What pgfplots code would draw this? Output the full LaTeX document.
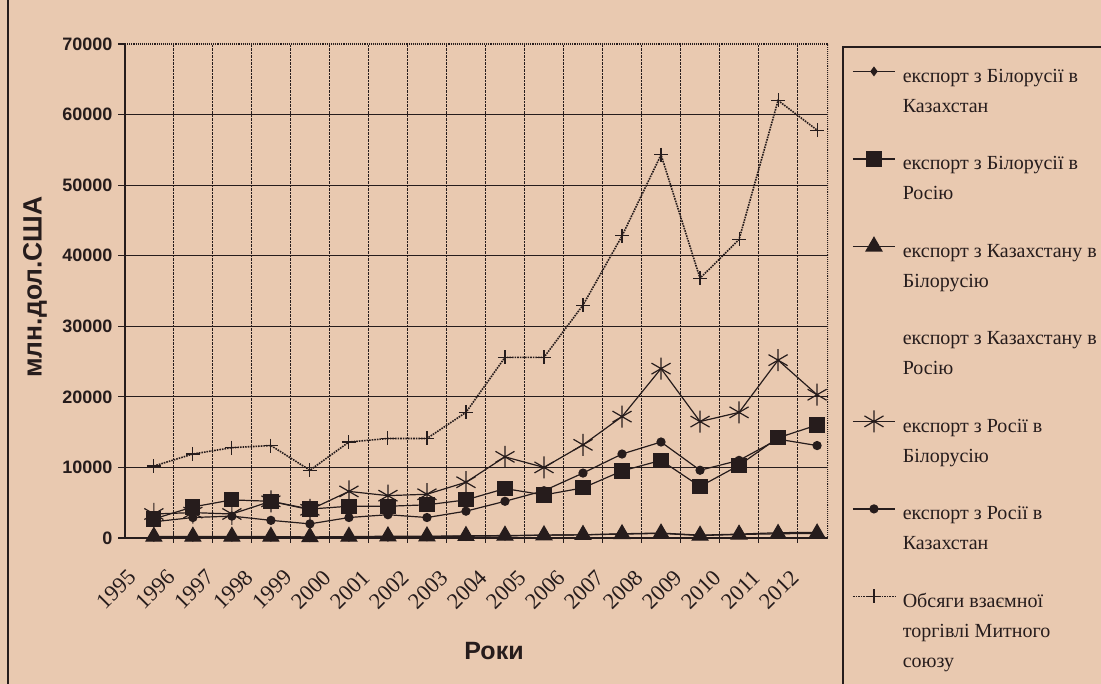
\documentclass[border=0pt]{standalone}
\usepackage{fontspec}
\setmainfont{Liberation Serif}
\setsansfont{Liberation Sans}
\usepackage{pgfplots}
\pgfplotsset{compat=1.18}
\definecolor{paper}{RGB}{233,201,176}
\definecolor{ink}{RGB}{38,28,28}
\newcommand{\legtxt}[1]{\parbox[t]{215pt}{\raggedright #1}}

\begin{document}
\begin{tikzpicture}
\path[use as bounding box, fill=paper] (0,0) rectangle (1101pt,684pt);
\draw[ink, line width=1.5pt] (8pt,0) -- (8pt,684pt);
\begin{axis}[
  at={(125pt,146pt)}, anchor=south west,
  scale only axis, width=703pt, height=494pt,
  xmin=-0.74, xmax=17.28, ymin=0, ymax=70000,
  axis x line*=bottom, axis y line*=left,
  axis line style={ink, line width=1.3pt, -},
  /pgf/number format/assume math mode=true,
  /pgf/number format/1000 sep={},
  scaled y ticks=false,
  xtick={0,...,17},
  xticklabels={1995,1996,1997,1998,1999,2000,2001,2002,2003,2004,2005,2006,2007,2008,2009,2010,2011,2012},
  major x tick style={draw=none},
  minor xtick={0.5,1.5,...,16.5},
  xminorgrids,
  minor grid style={ink, densely dotted, line width=1.1pt},
  minor x tick style={ink, line width=1.1pt},
  minor tick length=10pt,
  xtick align=center,
  xticklabel style={font=\fontsize{22.5}{22.5}\selectfont, text=ink, xshift=-27pt, yshift=-22pt, rotate=45, anchor=north east},
  ytick={0,10000,...,60000},
  extra y ticks={70000},
  extra y tick style={grid=none},
  ymajorgrids,
  major grid style={ink, line width=1.2pt},
  ytick align=outside,
  major tick length=7pt,
  y tick style={ink, line width=1.1pt},
  yticklabel style={font=\fontsize{18}{18}\selectfont\sffamily\bfseries, text=ink, xshift=-2pt},
  legend image code/.code={\draw[mark repeat=2, mark phase=2, yshift=11pt, #1] plot coordinates {(0pt,0pt) (21pt,0pt) (42pt,0pt)};},
  legend style={at={(1.0213,0.994)}, anchor=north west, draw=none, fill=none,
    font=\fontsize{20}{30}\selectfont, text=ink,
    cells={anchor=base west}, column sep=5pt,
    row sep={87.5pt,between origins}, inner xsep=9pt, inner ysep=20pt},
]
\draw[ink, densely dotted, line width=1.1pt] (rel axis cs:0,1) -- (rel axis cs:1,1) -- (rel axis cs:1,0);

\addplot[ink, line width=1.2pt, mark=diamond*, mark size=4pt] coordinates {
(0,150) (1,150) (2,150) (3,150) (4,100) (5,150) (6,150) (7,200) (8,250) (9,300) (10,400) (11,450) (12,600) (13,700) (14,400) (15,550) (16,750) (17,800)};
\addlegendentry{\legtxt{експорт з Білорусії в\\Казахстан}}

\addplot[ink, line width=1.2pt, mark=square*, mark size=7pt] coordinates {
(0,2700) (1,4400) (2,5400) (3,5200) (4,4100) (5,4500) (6,4500) (7,4700) (8,5400) (9,7000) (10,6100) (11,7100) (12,9500) (13,11000) (14,7300) (15,10300) (16,14200) (17,16000)};
\addlegendentry{\legtxt{експорт з Білорусії в\\Росію}}

\addplot[ink, line width=1.2pt, mark=triangle*, mark size=9pt] coordinates {
(0,200) (1,200) (2,200) (3,200) (4,150) (5,200) (6,250) (7,250) (8,300) (9,350) (10,400) (11,450) (12,550) (13,650) (14,350) (15,500) (16,600) (17,650)};
\addlegendentry{\legtxt{експорт з Казахстану в\\Білорусію}}

\addlegendimage{empty legend}
\addlegendentry{\legtxt{експорт з Казахстану в\\Росію}}

\addplot[ink, line width=1.2pt, mark=asterisk, mark size=11pt, mark options={line width=1.2pt}] coordinates {
(0,3400) (1,3600) (2,3400) (3,5200) (4,4000) (5,6600) (6,6000) (7,6200) (8,7900) (9,11500) (10,10000) (11,13200) (12,17200) (13,24000) (14,16500) (15,17800) (16,25200) (17,20300)};
\addlegendentry{\legtxt{експорт з Росії в\\Білорусію}}

\addplot[ink, line width=1.2pt, mark=*, mark size=4pt] coordinates {
(0,2300) (1,2900) (2,3100) (3,2500) (4,2000) (5,2900) (6,3300) (7,2900) (8,3800) (9,5200) (10,6700) (11,9200) (12,11900) (13,13600) (14,9600) (15,11000) (16,14000) (17,13100)};
\addlegendentry{\legtxt{експорт з Росії в\\Казахстан}}

\addplot[ink, line width=1.6pt, densely dotted, mark=+, mark size=7pt, mark options={solid, line width=1.1pt}] coordinates {
(0,10200) (1,11900) (2,12800) (3,13100) (4,9600) (5,13600) (6,14100) (7,14100) (8,17800) (9,25600) (10,25600) (11,33000) (12,42800) (13,54300) (14,36800) (15,42300) (16,62000) (17,57800)};
\addlegendentry{\legtxt{Обсяги взаємної\\торгівлі Митного\\союзу}}
\end{axis}
\draw[ink, line width=1.2pt] (843pt,-20pt) rectangle (1130pt,637pt);
\node[rotate=90, font=\fontsize{26.5}{26.5}\selectfont\sffamily\bfseries, text=ink] at (35pt,397pt) {млн.дол.США};
\node[font=\fontsize{25}{25}\selectfont\sffamily\bfseries, text=ink] at (494pt,33pt) {Роки};
\end{tikzpicture}
\end{document}
